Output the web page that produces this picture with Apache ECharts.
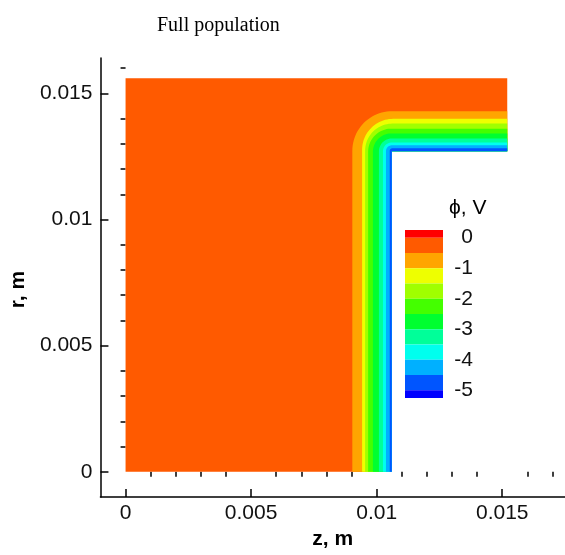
<!DOCTYPE html>
<html>
<head>
<meta charset="utf-8">
<script src="https://cdn.jsdelivr.net/npm/echarts@6/dist/echarts.min.js"></script>
<style>
  html, body { margin: 0; padding: 0; background: #fff; }
  #chart { width: 565px; height: 555px; }
</style>
</head>
<body>
<div id="chart"></div>
<script>
// Computational domain (m)
const zDomain = [0, 0.0152];
const rDomain = [0, 0.0156];
// Electrode: occupies z > zElectrode and r < rElectrode (left blank)
const zElectrode = 0.0106;
const rElectrode = 0.0127;

// Contour levels (V) with the z where each crosses the lower leg
// and the r where each crosses the upper leg
const levels = [-0.5, -1, -1.5, -2, -2.5, -3, -3.5, -4, -4.5];
const zLevel = [0.00903, 0.00942, 0.00954, 0.00966, 0.00985, 0.01009, 0.01025, 0.01037, 0.01052];
const rLevel = [0.01429, 0.01399, 0.01380, 0.01360, 0.01341, 0.01321, 0.01305, 0.01294, 0.01282];

// Flood colours, from above 0 V down to below -5 V
const bandColors = ['#ff0000', '#ff5a00', '#ffa500', '#eeff00', '#a0ff00', '#44ff00',
                    '#00ff30', '#00ff99', '#00ffee', '#00b0ff', '#0055ff', '#0000ff'];

// Colour-bar block edges (V) and labelled values
const legendEdges = [0.25, 0, -0.5, -1, -1.5, -2, -2.5, -3, -3.5, -4, -4.5, -5, -5.25];
const legendLabels = [0, -1, -2, -3, -4, -5];

// Axis ticks (m)
const zMajor = [0, 0.005, 0.01, 0.015];
const zMinor = [0.001, 0.002, 0.003, 0.004, 0.006, 0.007, 0.008, 0.009, 0.011, 0.012, 0.013, 0.014, 0.016, 0.017];
const rMajor = [0, 0.005, 0.01, 0.015];
const rMinor = [0.001, 0.002, 0.003, 0.004, 0.006, 0.007, 0.008, 0.009, 0.011, 0.012, 0.013, 0.014, 0.016];

// Field layers, painted from the outside in: the whole domain, then each
// region more negative than a level. Every layer is an L-shaped region
// wrapping the electrode corner.
// value: [zLeft, rTop, cornerRadius, colourIndex]
const fieldLayers = [[zDomain[0], rDomain[1], 0, 1]];
levels.forEach(function (lv, k) {
  const corner = ((zElectrode - zLevel[k]) + (rLevel[k] - rElectrode)) / 2;
  fieldLayers.push([zLevel[k], rLevel[k], corner, k + 2]);
});

// Colour-bar blocks: [upper, lower, colourIndex]
const legendBlocks = [];
for (let i = 0; i < legendEdges.length - 1; i++) {
  legendBlocks.push([legendEdges[i], legendEdges[i + 1], i]);
}

const font = 'Liberation Sans, Arial, Helvetica, sans-serif';
const chart = echarts.init(document.getElementById('chart'), null, { renderer: 'canvas' });

const option = {
  backgroundColor: '#ffffff',
  animation: false,
  title: {
    text: 'Full population',
    left: 152,
    top: 11,
    textStyle: { fontFamily: 'Liberation Serif, Times New Roman, serif', fontSize: 20, fontWeight: 'normal', color: '#000' }
  },
  graphic: [{
    type: 'text',
    left: 449,
    top: 198,
    z: 10,
    style: { text: 'ϕ, V', fontFamily: font, fontSize: 21, fill: '#000' }
  }],
  grid: [
    { left: 94, top: 58, width: 471, height: 444 },
    { left: 405, top: 230, width: 38, height: 168 }
  ],
  xAxis: [
    {
      gridIndex: 0, type: 'value', min: -0.001, max: 0.0175,
      name: 'z, m', nameLocation: 'middle', nameGap: 28,
      nameTextStyle: { fontFamily: font, fontSize: 21, fontWeight: 'bold', color: '#000' },
      axisLine: { show: true, onZero: false, lineStyle: { color: '#000', width: 1.5 } },
      axisTick: { show: true, inside: true, length: 8, customValues: zMajor, lineStyle: { color: '#000', width: 1.5 } },
      axisLabel: { customValues: zMajor, fontFamily: font, fontSize: 21, color: '#111', margin: 6 },
      splitLine: { show: false }
    },
    {
      gridIndex: 0, type: 'value', min: -0.001, max: 0.0175,
      axisLine: { show: false },
      axisTick: { show: true, inside: true, length: 5, customValues: zMinor, lineStyle: { color: '#000', width: 1.5 } },
      axisLabel: { show: false },
      splitLine: { show: false }
    },
    {
      gridIndex: 1, type: 'value', min: 0, max: 1, show: false
    }
  ],
  yAxis: [
    {
      gridIndex: 0, type: 'value', min: -0.001, max: 0.0164,
      name: 'r, m', nameLocation: 'middle', nameGap: 62,
      nameTextStyle: { fontFamily: font, fontSize: 21, fontWeight: 'bold', color: '#000', padding: [0, 24, 0, 0] },
      axisLine: { show: true, onZero: false, lineStyle: { color: '#000', width: 1.5 } },
      axisTick: { show: true, inside: true, length: 8, customValues: rMajor, lineStyle: { color: '#000', width: 1.5 } },
      axisLabel: { customValues: rMajor, fontFamily: font, fontSize: 21, color: '#111', margin: 8 },
      splitLine: { show: false }
    },
    {
      gridIndex: 0, type: 'value', min: -0.001, max: 0.0164,
      axisLine: { show: false },
      axisTick: { show: true, inside: true, length: 5, customValues: rMinor, lineStyle: { color: '#000', width: 1.5 } },
      axisLabel: { show: false },
      splitLine: { show: false }
    },
    {
      gridIndex: 1, type: 'value', min: -5.25, max: 0.25, position: 'right', z: 10,
      axisLine: { show: false },
      axisTick: { show: false },
      axisLabel: { customValues: legendLabels, align: 'right', margin: 30, fontFamily: font, fontSize: 21, color: '#111', padding: [6, 0, 0, 0] },
      splitLine: { show: false }
    }
  ],
  series: [
    {
      type: 'custom',
      name: 'phi',
      xAxisIndex: 0, yAxisIndex: 0,
      clip: true,
      data: fieldLayers,
      renderItem: function (params, api) {
        const zl = api.value(0), rt = api.value(1), corner = api.value(2);
        const tl = api.coord([zl, rt]);
        const br = api.coord([zDomain[1], rDomain[0]]);
        const el = api.coord([zElectrode, rElectrode]);
        const rad = corner > 0 ? api.size([corner, 0])[0] : 0;
        const pts = [[tl[0], br[1]]];
        if (rad > 0) {
          // rounded outer corner, centred inside the band
          const cx = tl[0] + rad, cy = tl[1] + rad;
          for (let i = 0; i <= 24; i++) {
            const a = Math.PI + (Math.PI / 2) * (i / 24);
            pts.push([cx + rad * Math.cos(a), cy + rad * Math.sin(a)]);
          }
        } else {
          pts.push([tl[0], tl[1]]);
        }
        pts.push([br[0], tl[1]], [br[0], el[1]], [el[0], el[1]], [el[0], br[1]]);
        return {
          type: 'polygon',
          shape: { points: pts },
          style: { fill: bandColors[api.value(3)] }
        };
      }
    },
    {
      type: 'custom',
      name: 'colour bar',
      xAxisIndex: 2, yAxisIndex: 2,
      data: legendBlocks,
      renderItem: function (params, api) {
        const p0 = api.coord([0, api.value(0)]);
        const p1 = api.coord([1, api.value(1)]);
        return {
          type: 'rect',
          shape: { x: p0[0], y: p0[1], width: p1[0] - p0[0], height: p1[1] - p0[1] },
          style: { fill: bandColors[api.value(2)] }
        };
      }
    }
  ]
};

chart.setOption(option);
</script>
</body>
</html>
